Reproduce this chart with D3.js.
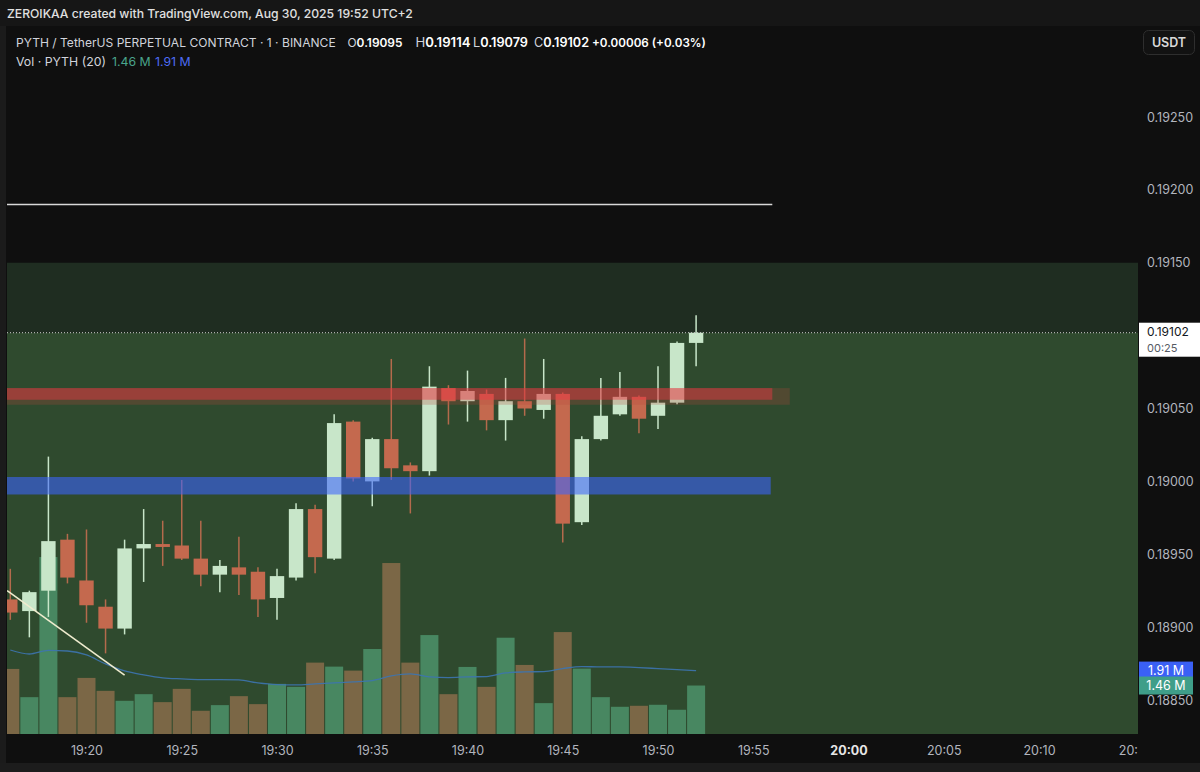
<!DOCTYPE html>
<html><head><meta charset="utf-8">
<script src="https://cdn.jsdelivr.net/npm/d3@7"></script>
<style>
html,body{margin:0;padding:0;background:#0f0f0f;}
svg{display:block;}
text{font-family:Inter,"Noto Sans",Roboto,sans-serif;}
</style></head><body>
<svg id="c" width="1200" height="772"></svg>
<script>
// ---------- DATA ----------
const times = ["19:16","19:17","19:18","19:19","19:20","19:21","19:22","19:23","19:24","19:25","19:26","19:27","19:28","19:29","19:30","19:31","19:32","19:33","19:34","19:35","19:36","19:37","19:38","19:39","19:40","19:41","19:42","19:43","19:44","19:45","19:46","19:47","19:48","19:49","19:50","19:51","19:52"];
const opens  = [0.18919,0.18911,0.18925,0.18960,0.18932,0.18914,0.18899,0.18954,0.18957,0.18956,0.18947,0.18936,0.18941,0.18938,0.18920,0.18934,0.18981,0.18947,0.19041,0.19000,0.19029,0.19011,0.19007,0.19064,0.19055,0.19060,0.19042,0.19055,0.19049,0.19060,0.18972,0.19029,0.19046,0.19058,0.19045,0.19054,0.19095];
const highs  = [0.18940,0.18925,0.19017,0.18964,0.18967,0.18919,0.18960,0.18981,0.18973,0.19001,0.18973,0.18946,0.18962,0.18941,0.18940,0.18985,0.18984,0.19046,0.19042,0.19030,0.19084,0.19013,0.19079,0.19066,0.19076,0.19063,0.19071,0.19098,0.19084,0.19061,0.19031,0.19071,0.19075,0.19059,0.19079,0.19096,0.19114];
const lows   = [0.18905,0.18893,0.18907,0.18930,0.18903,0.18882,0.18895,0.18931,0.18942,0.18946,0.18928,0.18924,0.18922,0.18907,0.18905,0.18932,0.18937,0.18946,0.19000,0.18983,0.19001,0.18978,0.19004,0.19039,0.19041,0.19035,0.19028,0.19045,0.19043,0.18958,0.18970,0.19028,0.19045,0.19033,0.19036,0.19053,0.19079];
const closes = [0.18910,0.18924,0.18959,0.18934,0.18915,0.18899,0.18954,0.18957,0.18955,0.18947,0.18936,0.18942,0.18936,0.18919,0.18935,0.18981,0.18948,0.19040,0.19002,0.19029,0.19009,0.19007,0.19065,0.19055,0.19062,0.19042,0.19055,0.19050,0.19060,0.18971,0.19029,0.19045,0.19058,0.19043,0.19054,0.19095,0.19102];
const volumes = [1.96,1.11,5.33,1.11,1.69,1.30,1.00,1.20,0.96,1.36,0.70,0.87,1.14,0.90,1.51,1.42,2.15,2.03,1.91,2.56,5.15,2.15,2.98,1.20,2.02,1.42,2.90,2.08,0.93,3.07,1.97,1.11,0.82,0.85,0.88,0.73,1.46]; // millions
const volumeMA = [2.53,2.41,2.52,2.50,2.38,2.11,1.90,1.78,1.69,1.66,1.64,1.64,1.63,1.54,1.49,1.48,1.51,1.54,1.57,1.61,1.75,1.81,1.72,1.70,1.72,1.73,1.84,1.87,1.88,1.97,2.03,2.02,2.02,2.00,1.97,1.94,1.91];
// visible price-axis ticks (0.19100 is hidden behind the last-price label)
const priceTicks = [0.1885,0.1890,0.1895,0.1900,0.1905,0.1915,0.1920,0.1925];
const timeTicks = ["19:20","19:25","19:30","19:35","19:40","19:45","19:50","19:55","20:00","20:05","20:10","20:15"];
const change = "+0.00006", changePct = "+0.03%";
const countdown = "00:25";
// drawings
const trendTimes = ["19:15:50","19:22:00"];
const trendPrices = [0.18925,0.18867];
const levelPrice = 0.19190, levelEnd = "19:56:00";
const redBand = [0.19056,0.19064], redBandEnd = "19:56:00", redBandExt = "19:56:55";
const blueBand = [0.18991,0.19003], blueBandEnd = "19:55:55";
const zoneTop = 0.19150;
const lastPrice = 0.19102;

// ---------- LAYOUT ----------
const svg = d3.select("#c");
const W = 1200, H = 772;
const plotL = 7, plotR = 1138, plotT = 26, plotB = 734;
const pT = d3.timeParse("%H:%M"), pTS = d3.timeParse("%H:%M:%S");

const x = d3.scaleTime().domain([pT("19:20"), pT("20:15")]).range([86.5, 86.5 + 55 * 19.05]);
const y = d3.scaleLinear().domain([0.1885, 0.1925]).range([700, 117]);
const yv = d3.scaleLinear().domain([0, 10]).range([plotB, plotB - 332]);

const UP = "#c8e6c9", DOWN = "#c4694e";
const VUP = "#488761", VDOWN = "#7b6746";

// backgrounds
svg.append("rect").attr("width", W).attr("height", H).attr("fill", "#0f0f0f");
svg.append("rect").attr("x", 0).attr("y", 0).attr("width", W).attr("height", 26).attr("fill", "#161616");
svg.append("rect").attr("x", 0).attr("y", 26).attr("width", 6).attr("height", 740).attr("fill", "#1b1b1b");
svg.append("rect").attr("x", 0).attr("y", 763).attr("width", W).attr("height", 9).attr("fill", "#1c1c1c");

const defs = svg.append("defs");
defs.append("clipPath").attr("id", "plotClip").append("rect")
  .attr("x", plotL).attr("y", plotT).attr("width", plotR - plotL).attr("height", plotB - plotT);
defs.append("clipPath").attr("id", "timeClip").append("rect")
  .attr("x", plotL).attr("y", plotB).attr("width", plotR - plotL).attr("height", 30);

const plot = svg.append("g").attr("clip-path", "url(#plotClip)");

// long-position zone
plot.append("rect").attr("x", plotL).attr("width", plotR - plotL)
  .attr("y", y(zoneTop)).attr("height", y(lastPrice) - y(zoneTop)).attr("fill", "#1f2d21");
plot.append("rect").attr("x", plotL).attr("width", plotR - plotL)
  .attr("y", y(lastPrice)).attr("height", plotB - y(lastPrice)).attr("fill", "#2f4a2e");

// volume bars
const data = times.map((t, i) => ({t: pT(t), o: opens[i], h: highs[i], l: lows[i], c: closes[i], v: volumes[i], ma: volumeMA[i]}));
plot.append("g").selectAll("rect").data(data).join("rect")
  .attr("x", d => x(d.t) - 9).attr("width", 18)
  .attr("y", d => yv(d.v)).attr("height", d => plotB - yv(d.v))
  .attr("fill", d => d.c >= d.o ? VUP : VDOWN);

// volume MA
plot.append("path").datum(data)
  .attr("d", d3.line().x(d => x(d.t)).y(d => yv(d.ma)).curve(d3.curveMonotoneX))
  .attr("fill", "none").attr("stroke", "#3d74b0").attr("stroke-width", 1.3).attr("opacity", 0.9);

// candles
const cg = plot.append("g");
cg.selectAll("line").data(data).join("line")
  .attr("x1", d => x(d.t)).attr("x2", d => x(d.t))
  .attr("y1", d => y(d.h)).attr("y2", d => y(d.l))
  .attr("stroke", d => d.c >= d.o ? UP : "#b46a4c").attr("stroke-width", 1.5);
cg.selectAll("rect").data(data).join("rect")
  .attr("x", d => x(d.t) - 7.2).attr("width", 14.4)
  .attr("y", d => y(Math.max(d.o, d.c)))
  .attr("height", d => Math.max(1.5, Math.abs(y(d.o) - y(d.c))))
  .attr("fill", d => d.c >= d.o ? UP : DOWN);

// bands
plot.append("rect").attr("x", plotL).attr("width", x(pTS(redBandExt)) - plotL)
  .attr("y", y(redBand[1])).attr("height", y(redBand[0]) - y(redBand[1]) + 5)
  .attr("fill", "#b8463c").attr("opacity", 0.25);
plot.append("rect").attr("x", plotL).attr("width", x(pTS(redBandEnd)) - plotL)
  .attr("y", y(redBand[1])).attr("height", y(redBand[0]) - y(redBand[1]))
  .attr("fill", "#f23645").attr("opacity", 0.45);
plot.append("rect").attr("x", plotL).attr("width", x(pTS(blueBandEnd)) - plotL)
  .attr("y", y(blueBand[1])).attr("height", y(blueBand[0]) - y(blueBand[1]))
  .attr("fill", "#3c64ff").attr("opacity", 0.58);

// level line
plot.append("line").attr("x1", plotL).attr("x2", x(pTS(levelEnd)))
  .attr("y1", y(levelPrice)).attr("y2", y(levelPrice))
  .attr("stroke", "#d8d8d8").attr("stroke-width", 1.5);
// trend line
plot.append("line")
  .attr("x1", x(pTS(trendTimes[0]))).attr("y1", y(trendPrices[0]))
  .attr("x2", x(pTS(trendTimes[1]))).attr("y2", y(trendPrices[1]))
  .attr("stroke", "#efeccf").attr("stroke-width", 1.6);
// last price dotted line
plot.append("line").attr("x1", plotL).attr("x2", plotR)
  .attr("y1", y(lastPrice)).attr("y2", y(lastPrice))
  .attr("stroke", "#d0d0d0").attr("stroke-width", 1).attr("stroke-dasharray", "1,2");

// price axis
const pa = svg.append("g").attr("transform", `translate(${plotR},0)`)
  .call(d3.axisRight(y).tickValues(priceTicks).tickFormat(d3.format(".5f")).tickSize(0).tickPadding(9));
pa.select(".domain").remove();
pa.selectAll("text").attr("fill", "#b2b5be").attr("font-size", 12.5).attr("font-family", "Inter,Roboto,sans-serif");

// time axis
const ta = svg.append("g").attr("clip-path", "url(#timeClip)").append("g")
  .attr("transform", `translate(0,${plotB})`)
  .call(d3.axisBottom(x).tickValues(timeTicks.map(pT)).tickFormat(d3.timeFormat("%H:%M")).tickSize(0).tickPadding(12));
ta.select(".domain").remove();
ta.selectAll("text").attr("fill", d => d3.timeFormat("%H:%M")(d) === "20:00" ? "#e6e6e6" : "#b2b5be")
  .attr("font-weight", d => d3.timeFormat("%H:%M")(d) === "20:00" ? 700 : 400)
  .attr("font-size", 12.5);

// last price label
const ly = y(lastPrice);
svg.append("rect").attr("x", 1139).attr("y", ly - 10).attr("width", 61).attr("height", 34).attr("fill", "#ffffff");
svg.append("text").attr("x", 1147).attr("y", ly + 3.5).attr("font-size", 12).attr("fill", "#131722").text(d3.format(".5f")(lastPrice));
svg.append("text").attr("x", 1147).attr("y", ly + 19.5).attr("font-size", 11).attr("fill", "#555a63").text(countdown);

// volume labels
const vLab = [{v: volumeMA[volumeMA.length - 1], c: "#3a60f5"}, {v: volumes[volumes.length - 1], c: "#3f9e89"}];
vLab.forEach(d => {
  const cy = yv(d.v);
  svg.append("rect").attr("x", 1139).attr("y", cy - 9).attr("width", 54).attr("height", 18).attr("fill", d.c);
  svg.append("text").attr("x", 1166).attr("y", cy + 4.5).attr("text-anchor", "middle").attr("font-size", 12.5).attr("fill", "#ffffff").text(d.v.toFixed(2) + " M");
});

// USDT button
svg.append("rect").attr("x", 1143.5).attr("y", 30.5).attr("width", 51).attr("height", 24).attr("rx", 5)
  .attr("fill", "#121212").attr("stroke", "#2e2e2e");
svg.append("text").attr("x", 1169).attr("y", 47).attr("text-anchor", "middle").attr("font-size", 12.5).attr("font-weight", 600).attr("fill", "#d8d8d8").text("USDT");

// header texts: fit font size so natural width matches target width
function fitText(xp, yp, target, weight) {
  const t = svg.append("text").attr("x", xp).attr("y", yp).attr("font-size", 13);
  if (weight) t.attr("font-weight", weight);
  return {t, fit() {
    const w = t.node().getComputedTextLength();
    if (w > 0) t.attr("font-size", Math.min(14, 13 * target / w).toFixed(2));
    return t;
  }};
}
function simple(xp, yp, s, fill, target, weight) {
  const o = fitText(xp, yp, target, weight);
  o.t.attr("fill", fill).text(s);
  return o.fit();
}
simple(7, 18, "ZEROIKAA created with TradingView.com, Aug 30, 2025 19:52 UTC+2", "#e0e0e0", 406, 500);
simple(16, 47, "PYTH / TetherUS PERPETUAL CONTRACT · 1 · BINANCE", "#d1d4dc", 320);
const ohlc = [["O", opens], ["H", highs], ["L", lows], ["C", closes]];
const ox = [347.5, 415.5, 473, 534];
ohlc.forEach((p, i) => {
  const o = fitText(ox[i], 47, 55);
  o.t.attr("fill", "#d1d4dc");
  o.t.append("tspan").text(p[0]);
  o.t.append("tspan").attr("fill", "#ffffff").attr("font-weight", 600).text(d3.format(".5f")(p[1][p[1].length - 1]));
  o.fit();
});
simple(592, 47, change + " (" + changePct + ")", "#ffffff", 114, 600);
svg.append("text").attr("x", 16).attr("y", 66).attr("font-size", 12.3).attr("fill", "#d1d4dc").text("Vol · PYTH (20)");
svg.append("text").attr("x", 112).attr("y", 66).attr("font-size", 12.3).attr("fill", "#4aa58c").text(volumes[volumes.length - 1].toFixed(2) + " M");
svg.append("text").attr("x", 155).attr("y", 66).attr("font-size", 12.3).attr("fill", "#4d6cf5").text(volumeMA[volumeMA.length - 1].toFixed(2) + " M");
</script>
</body></html>
